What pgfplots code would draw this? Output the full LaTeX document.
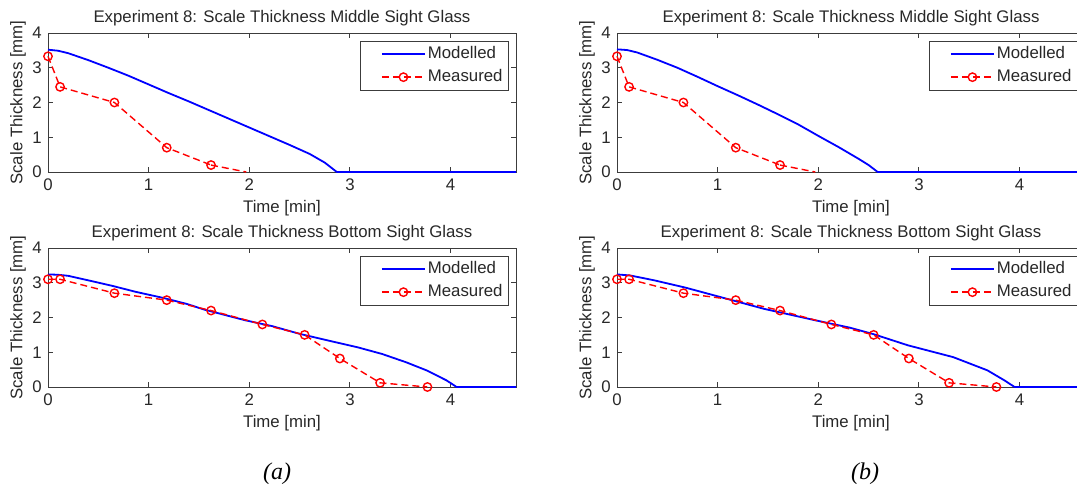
\documentclass[border=0pt]{standalone}
\usepackage{pgfplots}
\pgfplotsset{compat=1.18}
\usepackage{fontspec}
\setmainfont{Liberation Sans}
\newfontfamily\serifit{Liberation Serif}
\definecolor{axgray}{RGB}{60,60,60}
\definecolor{txtgray}{RGB}{40,40,40}
\newcommand{\fs}{\fontsize{16.8}{19}\selectfont}
\pgfplotsset{
  panel/.style={
    scale only axis, width=468pt, height=139pt,
    xmin=0, xmax=4.65, ymin=0, ymax=4,
    xtick={0,1,2,3,4}, ytick={0,1,2,3,4},
    tick align=inside, major tick length=5pt,
    axis line style={axgray, line width=0.9pt},
    every tick/.style={axgray, line width=0.9pt},
    tick label style={font=\fs, text=txtgray},
    /pgf/number format/assume math mode=true,
    yticklabel style={inner sep=0pt, xshift=-6pt},
    xticklabel style={inner sep=0pt, yshift=-7pt},
    xlabel={Time [min]}, ylabel={Scale Thickness [mm]},
    xlabel style={font=\fs, text=txtgray, at={(axis description cs:0.5,-0.291)}, anchor=base},
    ylabel style={font=\fs, text=txtgray, at={(axis description cs:-0.064,0.5)}, anchor=center},
    every axis title shift=0pt,
    title style={font=\fs, text=txtgray, at={(axis description cs:0.5,1.079)}, anchor=base, inner sep=0pt},
    clip=false,
    legend cell align=left,
    legend style={at={(1,1)}, anchor=north east, xshift=-7pt, yshift=-7.7pt,
      draw=axgray, line width=0.9pt, font=\fs, text=txtgray,
      inner xsep=4pt, inner ysep=3.5pt, row sep=4pt,
      nodes={text height=12pt, text depth=3pt, inner sep=2pt}},
    legend image code/.code={\path (-17pt,0pt); \draw[##1, mark repeat=2, mark phase=2] plot coordinates {(0pt,0pt) (21.5pt,0pt) (43pt,0pt)};},
  },
  modl/.style={blue, line width=1.8pt, no marks},
  meas/.style={red, line width=1.4pt, dash pattern=on 7pt off 4pt, mark=o,
    mark options={solid, line width=1.4pt}, mark size=4.2pt},
}
\begin{document}
\begin{tikzpicture}
\useasboundingbox (0,0) rectangle (1077pt,-495pt);
\clip (0,0) rectangle (1077pt,-495pt);
% top left
\begin{axis}[panel, at={(48pt,-172pt)}, anchor=south west,
  title={Experiment 8: Scale Thickness Middle Sight Glass}]
\addplot[modl] coordinates {(0,3.52) (0.1,3.49) (0.2,3.42) (0.4,3.22) (0.6,3.00) (0.8,2.77) (1.0,2.52) (1.2,2.27) (1.4,2.03) (1.6,1.78) (1.8,1.53) (2.0,1.28) (2.2,1.03) (2.4,0.78) (2.6,0.52) (2.75,0.27) (2.87,0) (4.65,0)};
\addlegendentry{Modelled}
\addplot[meas] coordinates {(0,3.33) (0.12,2.45) (0.66,2.0) (1.18,0.7) (1.62,0.2)};
\addlegendentry{Measured}
\addplot[meas, no marks, forget plot] coordinates {(1.62,0.2) (1.97,0)};
\end{axis}
% bottom left
\begin{axis}[panel, at={(48pt,-387pt)}, anchor=south west,
  title={Experiment 8: Scale Thickness Bottom Sight Glass}]
\addplot[modl] coordinates {(0,3.24) (0.1,3.23) (0.2,3.2) (0.43,3.05) (0.64,2.91) (0.87,2.74) (1.15,2.56) (1.38,2.39) (1.55,2.23) (1.96,1.92) (2.23,1.75) (2.5,1.53) (2.84,1.30) (3.08,1.14) (3.32,0.95) (3.56,0.71) (3.76,0.48) (3.96,0.19) (4.06,0) (4.65,0)};
\addlegendentry{Modelled}
\addplot[meas] coordinates {(0,3.1) (0.12,3.1) (0.66,2.7) (1.18,2.5) (1.62,2.2) (2.13,1.8) (2.55,1.5) (2.9,0.82) (3.3,0.12) (3.77,0.0)};
\addlegendentry{Measured}
\end{axis}
% top right
\begin{axis}[panel, at={(617pt,-172pt)}, anchor=south west,
  title={Experiment 8: Scale Thickness Middle Sight Glass}]
\addplot[modl] coordinates {(0,3.53) (0.1,3.51) (0.2,3.44) (0.4,3.23) (0.6,3.00) (0.8,2.74) (1.0,2.47) (1.2,2.21) (1.4,1.94) (1.6,1.66) (1.8,1.37) (2.0,1.04) (2.2,0.72) (2.4,0.38) (2.5,0.2) (2.59,0) (4.65,0)};
\addlegendentry{Modelled}
\addplot[meas] coordinates {(0,3.33) (0.12,2.45) (0.66,2.0) (1.18,0.7) (1.62,0.2)};
\addlegendentry{Measured}
\addplot[meas, no marks, forget plot] coordinates {(1.62,0.2) (1.97,0)};
\end{axis}
% bottom right
\begin{axis}[panel, at={(617pt,-387pt)}, anchor=south west,
  title={Experiment 8: Scale Thickness Bottom Sight Glass}]
\addplot[modl] coordinates {(0,3.24) (0.13,3.21) (0.37,3.07) (0.68,2.86) (1.0,2.61) (1.46,2.25) (1.97,1.92) (2.31,1.71) (2.55,1.52) (2.89,1.2) (3.34,0.86) (3.51,0.67) (3.68,0.48) (3.85,0.19) (3.95,0) (4.65,0)};
\addlegendentry{Modelled}
\addplot[meas] coordinates {(0,3.1) (0.12,3.1) (0.66,2.7) (1.18,2.5) (1.62,2.2) (2.13,1.8) (2.55,1.5) (2.9,0.82) (3.3,0.12) (3.77,0.0)};
\addlegendentry{Measured}
\end{axis}
\node[font=\serifit\itshape\fontsize{24}{28}\selectfont, anchor=center] at (277pt,-474pt) {(a)};
\node[font=\serifit\itshape\fontsize{24}{28}\selectfont, anchor=center] at (865pt,-474pt) {(b)};
\end{tikzpicture}
\end{document}
